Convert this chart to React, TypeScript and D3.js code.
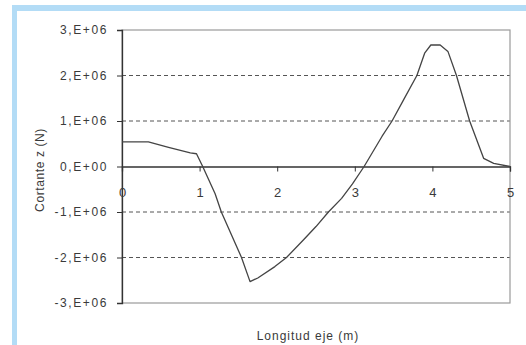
import * as d3 from "d3";
import { useEffect, useRef } from "react";

// Cortante z (N) a lo largo del eje, valores en N
const posX = [0, 0.34, 0.6, 0.88, 0.96, 1.04, 1.2, 1.28, 1.54, 1.65, 1.75, 1.97, 2.12, 2.34, 2.5, 2.66, 2.83, 2.97, 3.12, 3.35, 3.48, 3.63, 3.8, 3.9, 3.98, 4.1, 4.2, 4.31, 4.48, 4.66, 4.79, 5.0];
const shear = [0.54, 0.54, 0.42, 0.3, 0.28, 0, -0.6, -1.0, -2.0, -2.53, -2.45, -2.2, -2.0, -1.61, -1.32, -1.0, -0.7, -0.38, 0, 0.66, 1.0, 1.47, 2.0, 2.49, 2.67, 2.67, 2.53, 2.0, 1.0, 0.18, 0.07, 0].map(v => v * 1e6);

const xTicks = [0, 1, 2, 3, 4, 5];
const yTicks = [3e6, 2e6, 1e6, 0, -1e6, -2e6, -3e6];
const yTickLabels = ["3,E+06", "2,E+06", "1,E+06", "0,E+00", "-1,E+06", "-2,E+06", "-3,E+06"];

const App = () => {
    const svgRef = useRef<SVGSVGElement | null>(null);

    useEffect(() => {
        if (!svgRef.current) return;

        const width = 526;
        const height = 345;
        const margin = { top: 30, right: 16, bottom: 42, left: 122 };
        const font = "'Liberation Sans', Arial, sans-serif";

        const svg = d3.select(svgRef.current);
        svg.selectAll("*").remove();

        svg.append("rect").attr("width", width).attr("height", height).attr("fill", "#fff");

        // light blue frame
        svg.append("rect").attr("x", 12).attr("y", 5).attr("width", width - 12).attr("height", 6).attr("fill", "#b3dcf6");
        svg.append("rect").attr("x", 12).attr("y", 5).attr("width", 5).attr("height", height - 5).attr("fill", "#b3dcf6");

        const x = d3.scaleLinear().domain([0, 5]).range([margin.left, width - margin.right]);
        const y = d3.scaleLinear().domain([-3e6, 3e6]).range([height - margin.bottom, margin.top]);

        // grid
        svg.append("g")
            .selectAll("line")
            .data(yTicks.filter(d => d !== 0 && Math.abs(d) !== 3e6))
            .join("line")
            .attr("x1", x(0)).attr("x2", x(5))
            .attr("y1", d => y(d)).attr("y2", d => y(d))
            .attr("stroke", "#555")
            .attr("stroke-width", 1)
            .attr("stroke-dasharray", "4,3");

        // plot box
        svg.append("rect")
            .attr("x", x(0)).attr("y", y(3e6))
            .attr("width", x(5) - x(0)).attr("height", y(-3e6) - y(3e6))
            .attr("fill", "none")
            .attr("stroke", "#9a9a9a")
            .attr("stroke-width", 1.2);

        // y axis
        const yAxis = svg.append("g")
            .attr("transform", `translate(${x(0)},0)`)
            .call(d3.axisLeft(y).tickValues(yTicks).tickSize(5).tickFormat((_, i) => yTickLabels[i]));
        yAxis.select(".domain").attr("stroke", "#333").attr("stroke-width", 1.3);
        yAxis.selectAll(".tick line").attr("stroke", "#333");
        yAxis.selectAll("text")
            .attr("x", -14)
            .attr("fill", "#3a3a3a")
            .style("font-family", font)
            .style("font-size", "12px")
            .style("letter-spacing", "1.6px");

        // x axis at zero
        const xAxis = svg.append("g")
            .attr("transform", `translate(0,${y(0)})`)
            .call(d3.axisBottom(x).tickValues(xTicks).tickSize(5).tickFormat(d3.format("d")));
        xAxis.select(".domain").attr("stroke", "#333").attr("stroke-width", 1.3);
        xAxis.selectAll(".tick line").attr("stroke", "#333");
        xAxis.selectAll("text")
            .attr("y", 21)
            .attr("fill", "#3a3a3a")
            .style("font-family", font)
            .style("font-size", "13px");

        // shear line
        const line = d3.line<number>()
            .x((_, i) => x(posX[i]))
            .y(d => y(d));

        svg.append("path")
            .datum(shear)
            .attr("fill", "none")
            .attr("stroke", "#444")
            .attr("stroke-width", 1.3)
            .attr("stroke-linejoin", "round")
            .attr("d", line);

        // titles
        svg.append("text")
            .attr("x", 308).attr("y", 340)
            .attr("text-anchor", "middle")
            .attr("fill", "#3a3a3a")
            .style("font-family", font)
            .style("font-size", "12px")
            .style("letter-spacing", "1px")
            .text("Longitud eje (m)");

        svg.append("text")
            .attr("transform", "translate(44,170) rotate(-90)")
            .attr("text-anchor", "middle")
            .attr("fill", "#3a3a3a")
            .style("font-family", font)
            .style("font-size", "12px")
            .style("letter-spacing", "0.6px")
            .text("Cortante z (N)");
    }, []);

    return (
        <svg
            ref={svgRef}
            width={526}
            height={345}
            style={{ position: "fixed", left: 0, top: 0, display: "block" }}
        ></svg>
    );
};

export default App;
